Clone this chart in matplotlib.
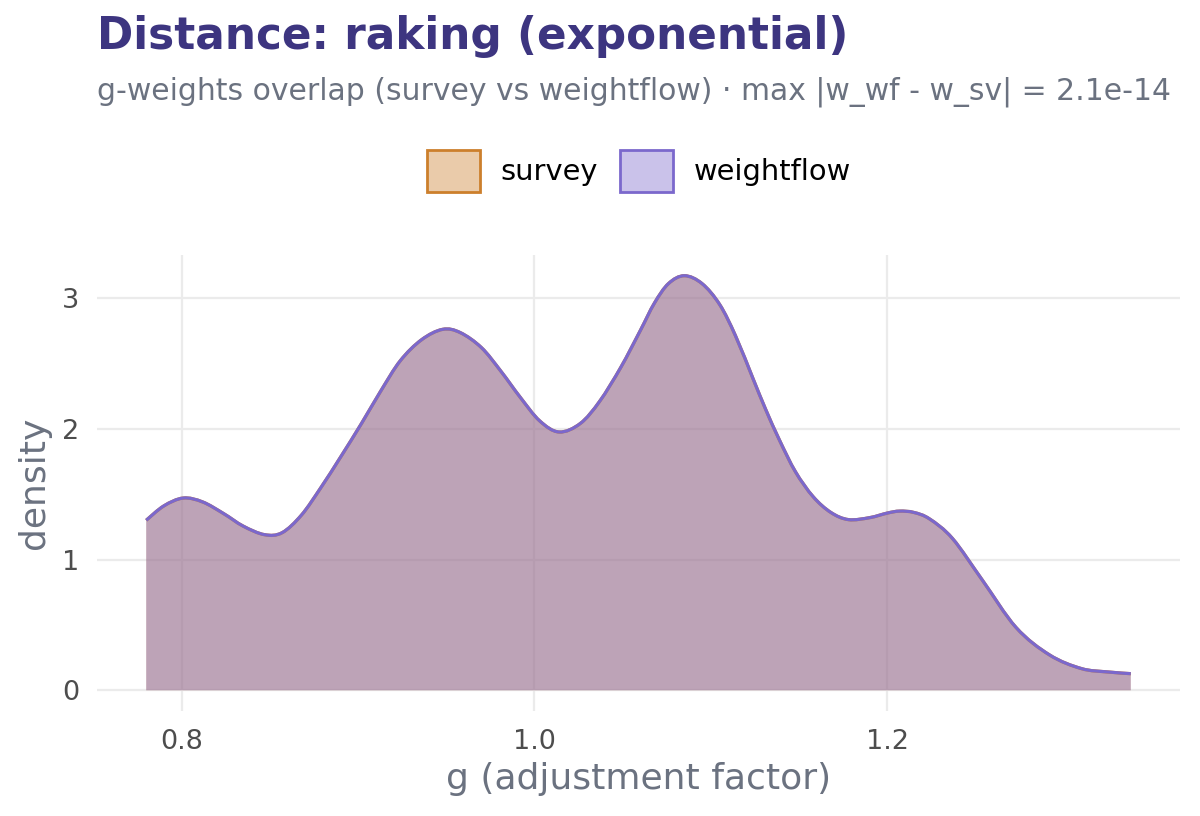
import numpy as np
import matplotlib
matplotlib.use("Agg")
import matplotlib.pyplot as plt
import matplotlib.colors as mcolors
from matplotlib.patches import Patch, PathPatch
from matplotlib.path import Path

# Density curve (same for both series)
g_values = [0.780, 0.790, 0.801, 0.812, 0.824, 0.835, 0.847, 0.857, 0.868, 0.879,
            0.890, 0.902, 0.913, 0.924, 0.936, 0.948, 0.958, 0.970, 0.981, 0.992,
            1.003, 1.014, 1.026, 1.037, 1.049, 1.060, 1.068, 1.076, 1.085, 1.095,
            1.105, 1.114, 1.124, 1.131, 1.139, 1.148, 1.158, 1.168, 1.178, 1.190,
            1.200, 1.207, 1.215, 1.224, 1.237, 1.254, 1.273, 1.292, 1.310, 1.325,
            1.338]
survey_density = [1.30, 1.41, 1.47, 1.44, 1.35, 1.255, 1.19, 1.205, 1.34, 1.55,
                  1.78, 2.04, 2.29, 2.52, 2.68, 2.76, 2.735, 2.62, 2.44, 2.24,
                  2.06, 1.975, 2.04, 2.21, 2.47, 2.75, 2.96, 3.11, 3.17, 3.11,
                  2.95, 2.71, 2.38, 2.15, 1.91, 1.67, 1.48, 1.36, 1.305, 1.32,
                  1.355, 1.37, 1.36, 1.31, 1.16, 0.84, 0.48, 0.27, 0.166, 0.14,
                  0.127]
weightflow_density = list(survey_density)

series_names = ["survey", "weightflow"]
series_colors = ["#CC7F2C", "#7B68CC"]
x_ticks = [0.8, 1.0, 1.2]
x_tick_labels = ["0.8", "1.0", "1.2"]
y_ticks = [0, 1, 2, 3]
y_tick_labels = ["0", "1", "2", "3"]

title = "Distance: raking (exponential)"
subtitle = "g-weights overlap (survey vs weightflow) \u00b7 max |w_wf - w_sv| = 2.1e-14"

plt.rcParams['font.family'] = ['DejaVu Sans']


def smooth_path_vertices(xs, ys):
    """Catmull-Rom curve through the read points, as cubic Bezier segments."""
    P = np.column_stack([xs, ys])
    n = len(P)
    verts = [tuple(P[0])]
    codes = [Path.MOVETO]
    for i in range(n - 1):
        p0 = P[i - 1] if i > 0 else P[i]
        p1 = P[i]
        p2 = P[i + 1]
        p3 = P[i + 2] if i + 2 < n else P[i + 1]
        c1 = p1 + (p2 - p0) / 6.0
        c2 = p2 - (p3 - p1) / 6.0
        verts += [tuple(c1), tuple(c2), tuple(p2)]
        codes += [Path.CURVE4] * 3
    return verts, codes


fig = plt.figure(figsize=(12, 8.16), dpi=100)
ax = fig.add_axes([97/1200, 1-711/816, (1180-97)/1200, (711-255)/816])

x = np.array(g_values)
curves = [survey_density, weightflow_density]
for col, dens in zip(series_colors, curves):
    verts, codes = smooth_path_vertices(x, np.array(dens))
    fverts = verts + [(x[-1], 0.0), (x[0], 0.0), verts[0]]
    fcodes = codes + [Path.LINETO, Path.LINETO, Path.CLOSEPOLY]
    rgba = mcolors.to_rgba(col)
    ax.add_patch(PathPatch(Path(fverts, fcodes), facecolor=(rgba[0], rgba[1], rgba[2], 0.4),
                           edgecolor='none', linewidth=0, zorder=2))
for col, dens in zip(series_colors, curves):
    verts, codes = smooth_path_vertices(x, np.array(dens))
    ax.add_patch(PathPatch(Path(verts, codes), facecolor='none', edgecolor=col,
                           linewidth=2.3, zorder=3, capstyle='butt'))

xmin, xmax = min(g_values), max(g_values)
xr = xmax - xmin
ax.set_xlim(xmin - 0.05*xr, xmax + 0.05*xr)
ymax = max(survey_density)
ax.set_ylim(-0.05*ymax, ymax*1.05)

ax.set_xticks(x_ticks)
ax.set_xticklabels(x_tick_labels)
ax.set_yticks(y_ticks)
ax.set_yticklabels(y_tick_labels)
ax.tick_params(length=0, labelsize=19.5, labelcolor="#4D4D4D")
ax.tick_params(axis='x', pad=13)
ax.tick_params(axis='y', pad=13)
ax.grid(True, color="#EBEBEB", linewidth=1.6, zorder=0)
ax.set_axisbelow(True)
for s in ax.spines.values():
    s.set_visible(False)

ax.set_xlabel("g (adjustment factor)", fontsize=26, color="#6B7280", labelpad=5)
ax.set_ylabel("density", fontsize=26, color="#6B7280", labelpad=8)

fig.text(97/1200, 1-36/816, title, fontsize=31.5, fontweight='bold', color="#3D3580",
         ha='left', va='center')
fig.text(97/1200, 1-92/816, subtitle, fontsize=21.5, color="#6B7280", ha='left', va='center')

handles = []
for c in series_colors:
    rgba = mcolors.to_rgba(c)
    handles.append(Patch(facecolor=(rgba[0], rgba[1], rgba[2], 0.4), edgecolor=c, linewidth=2))
leg = fig.legend(handles, series_names, loc='center', bbox_to_anchor=(639/1200, 1-171/816),
                 ncol=2, frameon=False, fontsize=20.8, handlelength=1.83, handleheight=1.83,
                 handletextpad=0.72, columnspacing=0.76, borderpad=0, borderaxespad=0)

fig.savefig("out.png", dpi=100, facecolor="white")
